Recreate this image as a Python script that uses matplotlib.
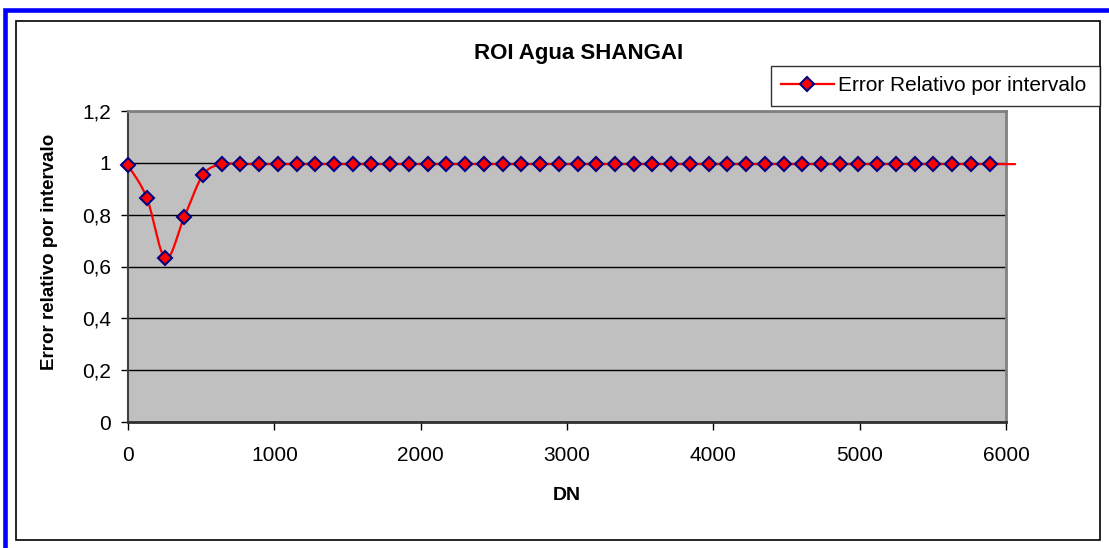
import numpy as np
import matplotlib.pyplot as plt
from matplotlib.lines import Line2D
from matplotlib.patches import Rectangle

plt.rcParams['font.family'] = ['Liberation Sans', 'DejaVu Sans']

title = "ROI Agua SHANGAI"
series_name = "Error Relativo por intervalo"
x_label = "DN"
y_label = "Error relativo por intervalo"

dn = [0, 128, 256, 384, 512, 640, 768, 896, 1024, 1152, 1280, 1408, 1536,
      1664, 1792, 1920, 2048, 2176, 2304, 2432, 2560, 2688, 2816, 2944,
      3072, 3200, 3328, 3456, 3584, 3712, 3840, 3968, 4096, 4224, 4352,
      4480, 4608, 4736, 4864, 4992, 5120, 5248, 5376, 5504, 5632, 5760,
      5888, 6060]
err = [0.99, 0.866, 0.631, 0.79, 0.953, 0.995, 0.995, 0.995, 0.995, 0.995,
       0.995, 0.995, 0.995, 0.995, 0.995, 0.995, 0.995, 0.995, 0.995, 0.995,
       0.995, 0.995, 0.995, 0.995, 0.995, 0.995, 0.995, 0.995, 0.995, 0.995,
       0.995, 0.995, 0.995, 0.995, 0.995, 0.995, 0.995, 0.995, 0.995, 0.995,
       0.995, 0.995, 0.995, 0.995, 0.995, 0.995, 0.995, 0.995]
n_markers = 47  # last point only carries the line past the axis end

y_ticks = [0, 0.2, 0.4, 0.6, 0.8, 1.0, 1.2]
y_tick_labels = ["0", "0,2", "0,4", "0,6", "0,8", "1", "1,2"]
x_ticks = [0, 1000, 2000, 3000, 4000, 5000, 6000]


def smooth(x, y, steps=16):
    # Excel-like smoothed line: Catmull-Rom bezier through each point
    x = np.asarray(x, float)
    y = np.asarray(y, float)
    px = np.concatenate([[x[0]], x, [x[-1]]])
    py = np.concatenate([[y[0]], y, [y[-1]]])
    t = np.linspace(0, 1, steps)[:, None]
    xs, ys = [], []
    for i in range(1, len(px) - 2):
        p0, p1, p2, p3 = [np.array([px[j], py[j]]) for j in (i - 1, i, i + 1, i + 2)]
        c1 = p1 + (p2 - p0) / 6
        c2 = p2 - (p3 - p1) / 6
        b = ((1 - t) ** 3) * p1 + 3 * ((1 - t) ** 2) * t * c1 \
            + 3 * (1 - t) * t ** 2 * c2 + t ** 3 * p2
        xs.append(b[:, 0])
        ys.append(b[:, 1])
    return np.concatenate(xs), np.concatenate(ys)


W, H = 1109, 548
fig = plt.figure(figsize=(W / 100, H / 100), dpi=100)

# chart frames
fig.patches.append(Rectangle((5 / W, -0.1), 1.2, 1 - 9.5 / H + 0.1,
                             transform=fig.transFigure, fill=False,
                             edgecolor='#0000FF', linewidth=3.3))
fig.patches.append(Rectangle((16 / W, 1 - 540 / H), (1100 - 16) / W, (540 - 21) / H,
                             transform=fig.transFigure, fill=False,
                             edgecolor='black', linewidth=1.2))

ax = fig.add_axes([128 / W, 1 - 422 / H, (1006 - 128) / W, (422 - 111) / H])
ax.set_facecolor('#C0C0C0')
ax.set_xlim(0, 6000)
ax.set_ylim(0, 1.2)

ax.set_yticks(y_ticks)
ax.set_yticklabels(y_tick_labels)
ax.set_xticks(x_ticks)
ax.grid(axis='y', color='black', linewidth=1)
ax.set_axisbelow(True)
ax.tick_params(axis='y', length=5, width=1, pad=7, labelsize=15)
ax.tick_params(axis='x', length=6, width=1, pad=11, labelsize=15)

for side in ('top', 'right'):
    ax.spines[side].set_color('#808080')
    ax.spines[side].set_linewidth(2)
ax.spines['left'].set_color('#404040')
ax.spines['left'].set_linewidth(1.5)
ax.spines['bottom'].set_color('#303030')
ax.spines['bottom'].set_linewidth(2)

sx, sy = smooth(dn, err)
ax.plot(sx, sy, color='red', linewidth=1.6, clip_on=False, zorder=3)
ax.plot(dn[:n_markers], err[:n_markers], linestyle='none', marker='D',
        markersize=7, markerfacecolor='red', markeredgecolor='#000080',
        markeredgewidth=1.5, clip_on=False, zorder=4)

fig.text(579 / W, 1 - 54 / H, title, ha='center', va='center',
         fontsize=16, fontweight='bold')
fig.text(567 / W, 1 - 496 / H, x_label, ha='center', va='center',
         fontsize=14, fontweight='bold')
fig.text(50 / W, 1 - 252 / H, y_label, ha='center', va='center',
         rotation=90, fontsize=13.5, fontweight='bold')

handle = Line2D([], [], color='red', linewidth=1.6, marker='D', markersize=7,
                markerfacecolor='red', markeredgecolor='#000080',
                markeredgewidth=1.5)
leg = fig.legend([handle], [series_name], loc='upper left', mode='expand',
                 bbox_to_anchor=(771 / W, 1 - 105 / H, (1100 - 771) / W, 39 / H),
                 fontsize=15, frameon=True, fancybox=False, edgecolor='black',
                 borderpad=0.5, borderaxespad=0, handlelength=2.5,
                 handletextpad=0.2)
leg.get_frame().set_linewidth(1)

fig.savefig("out.png", dpi=100)
